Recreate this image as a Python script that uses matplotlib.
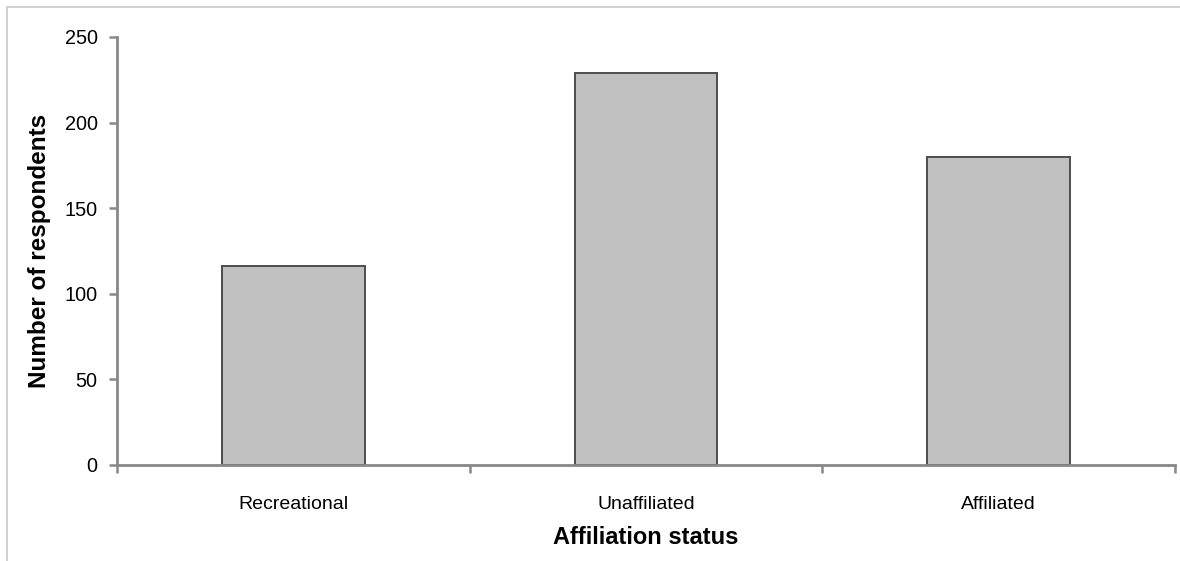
import matplotlib
matplotlib.use("Agg")
import matplotlib.pyplot as plt
from matplotlib.patches import Rectangle

categories = ["Recreational", "Unaffiliated", "Affiliated"]
respondents = [116, 229, 180]

plt.rcParams['font.family'] = ['Liberation Sans', 'DejaVu Sans']

fig = plt.figure(figsize=(11.8, 5.61), dpi=100)
ax = fig.add_axes([117 / 1180, 1 - 465 / 561, (1175 - 117) / 1180, (465 - 37) / 561])

# light frame round the picture (left and top edges visible)
fig.patches.append(Rectangle((7 / 1180, -0.1), 1.2, 1 - 7 / 561 + 0.1,
                             transform=fig.transFigure, fill=False,
                             edgecolor="#c8c8c8", linewidth=1.2))

x = list(range(len(categories)))
ax.bar(x, respondents, width=0.405, color="#c0c0c0", edgecolor="#4d4d4d", linewidth=1.4)

ax.set_xlim(-0.5, len(categories) - 0.5)
ax.set_ylim(0, 250)
ax.set_yticks([0, 50, 100, 150, 200, 250])

ax.set_xticks(x)
ax.set_xticklabels(categories)
ax.set_xticks([i - 0.5 for i in range(len(categories) + 1)], minor=True)
ax.tick_params(axis='x', which='major', length=0, pad=22, labelsize=14)
ax.tick_params(axis='x', which='minor', length=6, width=1.8, color="#888888", direction='out')
ax.tick_params(axis='y', length=6, width=1.8, color="#888888", direction='out', labelsize=14.3, pad=8)

for side in ["top", "right"]:
    ax.spines[side].set_visible(False)
for side in ["left", "bottom"]:
    ax.spines[side].set_color("#888888")
    ax.spines[side].set_linewidth(2)

ax.set_xlabel("Affiliation status", fontsize=17, fontweight='bold', labelpad=10)
ax.set_ylabel("Number of respondents", fontsize=17.5, fontweight='bold', labelpad=10)

fig.savefig("out.png", dpi=100)
